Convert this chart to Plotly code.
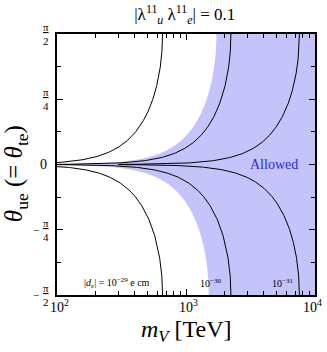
import numpy as np
import plotly.graph_objects as go

# ---- data ----
curve_labels = ["10<sup>−29</sup>", "10<sup>−30</sup>", "10<sup>−31</sup>"]
curve_m_top = [658, 2230, 7570]          # m_V [TeV] where each |d_e| contour meets theta = ±pi/2
allowed_m_top = 1720                      # edge of allowed band at theta = +pi/2
allowed_m_bottom = 1500                   # edge of allowed band at theta = -pi/2
x_tick_vals = [100, 1000, 10000]
x_tick_text = ["10<sup>2</sup>", "10<sup>3</sup>", "10<sup>4</sup>"]
y_tick_vals = [-np.pi / 2, -np.pi / 4, 0, np.pi / 4, np.pi / 2]

theta = np.linspace(-np.pi / 2, np.pi / 2, 2001)
theta = theta[np.abs(theta) > 1e-7]
shape = np.sqrt(np.abs(np.sin(theta)))   # |d_e| ∝ |sin θ| / m_V^2 contour shape

SERIF = "Liberation Serif, Times New Roman, serif"
fig = go.Figure()

# allowed band
mb = np.where(theta > 0, allowed_m_top, allowed_m_bottom) * shape
bx = np.concatenate([mb, [3e4, 3e4]])
by = np.concatenate([theta, [np.pi / 2, -np.pi / 2]])
fig.add_trace(go.Scatter(x=bx, y=by, fill="toself", mode="none",
                         fillcolor="rgb(196,196,250)", hoverinfo="skip", showlegend=False))

for m0 in curve_m_top:
    fig.add_trace(go.Scatter(x=m0 * shape, y=theta, mode="lines",
                             line=dict(color="black", width=1), showlegend=False))

minor_vals = [k * 10 ** d for d in (2, 3) for k in range(2, 10)]

fig.update_layout(
    width=327, height=352,
    margin=dict(l=57, r=10, t=34, b=57),
    paper_bgcolor="white", plot_bgcolor="white",
    font=dict(family=SERIF, color="black"),
    title=dict(text="|λ<sup>11</sup><sub><i>u</i></sub> λ<sup>11</sup><sub><i>e</i></sub>| = 0.1",
               x=0.565, xanchor="center", y=0.96, yanchor="middle",
               font=dict(family=SERIF, size=17)),
    xaxis=dict(type="log", range=[2, 4], showgrid=False, zeroline=False,
               showline=True, linecolor="black", linewidth=1.5, mirror="allticks",
               ticks="inside", ticklen=6, tickcolor="black",
               tickvals=x_tick_vals, showticklabels=False,
               minor=dict(ticks="inside", ticklen=4, tickvals=minor_vals, tickcolor="black", showgrid=False)),
    yaxis=dict(range=[-np.pi / 2, np.pi / 2], showgrid=False, zeroline=False,
               showline=True, linecolor="black", linewidth=1.5, mirror="allticks",
               ticks="inside", ticklen=6, tickcolor="black",
               tickvals=y_tick_vals, showticklabels=False,
               minor=dict(ticks="inside", ticklen=4, dtick=np.pi / 8, tickcolor="black", showgrid=False)),
)

# x tick labels
for i, (v, t) in enumerate(zip(x_tick_vals, x_tick_text)):
    last = i == len(x_tick_vals) - 1
    fig.add_annotation(x=np.log10(v), xref="x", y=0, yref="paper", yanchor="middle", yshift=-11,
                       xanchor="right" if last else "center", xshift=9 if last else 2,
                       text=t, showarrow=False, font=dict(family=SERIF, size=14))

# y tick labels (fractions of pi)
for val in y_tick_vals:
    if val == 0:
        fig.add_annotation(x=0, xref="paper", xanchor="right", xshift=-8, y=0, yref="y",
                           yanchor="middle", text="0", showarrow=False,
                           font=dict(family=SERIF, size=14))
        continue
    den = "2" if abs(abs(val) - np.pi / 2) < 1e-9 else "4"
    fig.add_annotation(x=0, xref="paper", xanchor="right", xshift=-6, y=val, yref="y",
                       yanchor="middle", text="<u>π</u><br>" + den, showarrow=False,
                       font=dict(family=SERIF, size=11))
    if val < 0:
        fig.add_annotation(x=0, xref="paper", xanchor="right", xshift=-16, y=val, yref="y",
                           yanchor="middle", text="−", showarrow=False,
                           font=dict(family=SERIF, size=11))

# axis titles
fig.add_annotation(x=0.5, xref="paper", y=-0.138, yref="paper", yanchor="middle",
                   text="<i>m<sub>V</sub></i> [TeV]", showarrow=False,
                   font=dict(family=SERIF, size=24))
fig.add_annotation(x=-0.158, xref="paper", y=0.464, yref="paper", xanchor="center", yanchor="middle",
                   textangle=-90, text="<i>θ</i><sub>ue</sub> (= <i>θ</i><sub>te</sub>)",
                   showarrow=False, font=dict(family=SERIF, size=25))

fig.add_annotation(x=np.log10(4800), y=0, text="Allowed", showarrow=False,
                   font=dict(family=SERIF, size=14, color="rgb(40,40,230)"))
label_x = [290, 1550, 5570]
label_txt = ["|<i>d<sub>e</sub></i>| = " + curve_labels[0] + " e cm", curve_labels[1], curve_labels[2]]
for lx, t in zip(label_x, label_txt):
    fig.add_annotation(x=np.log10(lx), y=-1.43, text=t, showarrow=False,
                       font=dict(family=SERIF, size=10))

# remove the browser's default 8px body margin so the figure fills the window exactly
fig.write_html("out.html", config={"displayModeBar": False},
               post_script="document.body.style.margin='0';")
